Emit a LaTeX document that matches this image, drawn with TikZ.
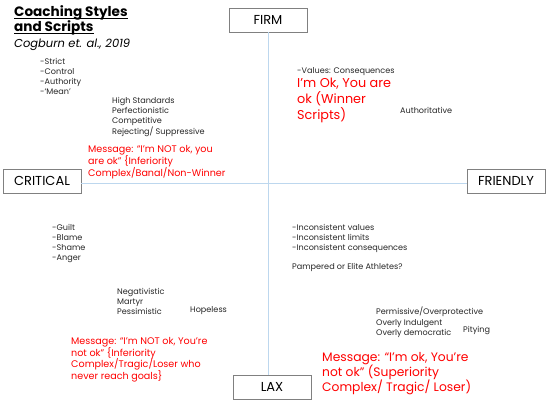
\documentclass[tikz,border=0pt]{standalone}
\usepackage{fontspec}
\setmainfont{Poppins}
\definecolor{axisblue}{HTML}{BDD7EE}
\definecolor{boxgrey}{HTML}{808080}
\definecolor{msgred}{HTML}{FF0000}
\tikzset{
  pole/.style={draw=boxgrey, line width=0.8pt, fill=white, minimum width=78pt, minimum height=24pt, inner sep=0pt, font=\fontsize{13}{15}\selectfont},
  note/.style={anchor=north west, inner sep=0pt, align=left, font=\fontsize{8.1}{10}\selectfont, text=black!85},
  message/.style={note, text=msgred, font=\fontsize{9.6}{12}\selectfont},
  heading/.style={anchor=base west, inner sep=0pt, font=\fontsize{13.6}{15.5}\selectfont\bfseries}
}
\begin{document}
\begin{tikzpicture}[x=1pt,y=-1pt]
\useasboundingbox (0,0) rectangle (548,402);

% Titre
\node[heading] (title1) at (14,16) {Coaching Styles};
\node[heading] (title2) at (14,31) {and Scripts};
\draw[line width=1.1pt] ([yshift=-2.2pt]title1.base west) -- ([yshift=-2.2pt]title1.base east);
\draw[line width=1.1pt] ([yshift=-2.2pt]title2.base west) -- ([yshift=-2.2pt]title2.base east);
\node[note, font=\fontsize{11.5}{13}\selectfont\itshape, text=black] (cite) at (14,39)
{Cogburn et. al., 2019};

% Axes
\node[pole] (firm) at (268,20) {FIRM};
\node[pole] (lax) at (272,387) {LAX};
\node[pole] (critical) at (42,181) {CRITICAL};
\node[pole] (friendly) at (506,181) {FRIENDLY};
\draw[axisblue, line width=0.9pt] (firm.south) -- (firm.south |- lax.north);
\draw[axisblue, line width=0.9pt] (critical.east) ++(0,2) coordinate (hl) -- (hl -| friendly.west) coordinate (hr);

% Critique / ferme
\node[note] (strict) at (40,58)
{-Strict\\-Control\\-Authority\\-`Mean'};
\node[note, font=\fontsize{8.1}{10.3}\selectfont] (standards) at (112,97)
{High Standards\\Perfectionistic\\Competitive\\Rejecting/ Suppressive};
\node[message] (msgnw) at (88,145)
{Message: ``I'm NOT ok, you\\are ok'' \{Inferiority\\Complex/Banal/Non-Winner};

% Amical / ferme
\node[note] (values) at (297,67) {-Values: Consequences};
\node[message, font=\fontsize{12.8}{16}\selectfont] (msgne) at (297,78)
{I'm Ok, You are\\ok (Winner\\Scripts)};
\node[note, anchor=west] (authoritative) at (400,110) {Authoritative};

% Critique / laxiste
\node[note] (guilt) at (52,224)
{-Guilt\\-Blame\\-Shame\\-Anger};
\node[note] (negative) at (117,288)
{Negativistic\\Martyr\\Pessimistic};
\node[note, anchor=west] (hopeless) at (190,311) {Hopeless};
\node[message, font=\fontsize{9.6}{11.7}\selectfont] (msgsw) at (71,337)
{Message: ``I'm NOT ok, You're\\not ok'' \{Inferiority\\Complex/Tragic/Loser who\\never reach goals\}};

% Amical / laxiste
\node[note] (inconsistent) at (292,224)
{-Inconsistent values\\-Inconsistent limits\\-Inconsistent consequences};
\node[note, anchor=west] (pampered) at (292,267) {Pampered or Elite Athletes?};
\node[note, font=\fontsize{8.1}{10.5}\selectfont] (permissive) at (376,307)
{Permissive/Overprotective\\Overly Indulgent\\Overly democratic};
\node[note, anchor=west] (pitying) at (463,331) {Pitying};
\node[message, font=\fontsize{12.3}{15}\selectfont] (msgse) at (322,352)
{Message: ``I'm ok, You're\\not ok'' (Superiority\\Complex/ Tragic/ Loser)};

\end{tikzpicture}
\end{document}
